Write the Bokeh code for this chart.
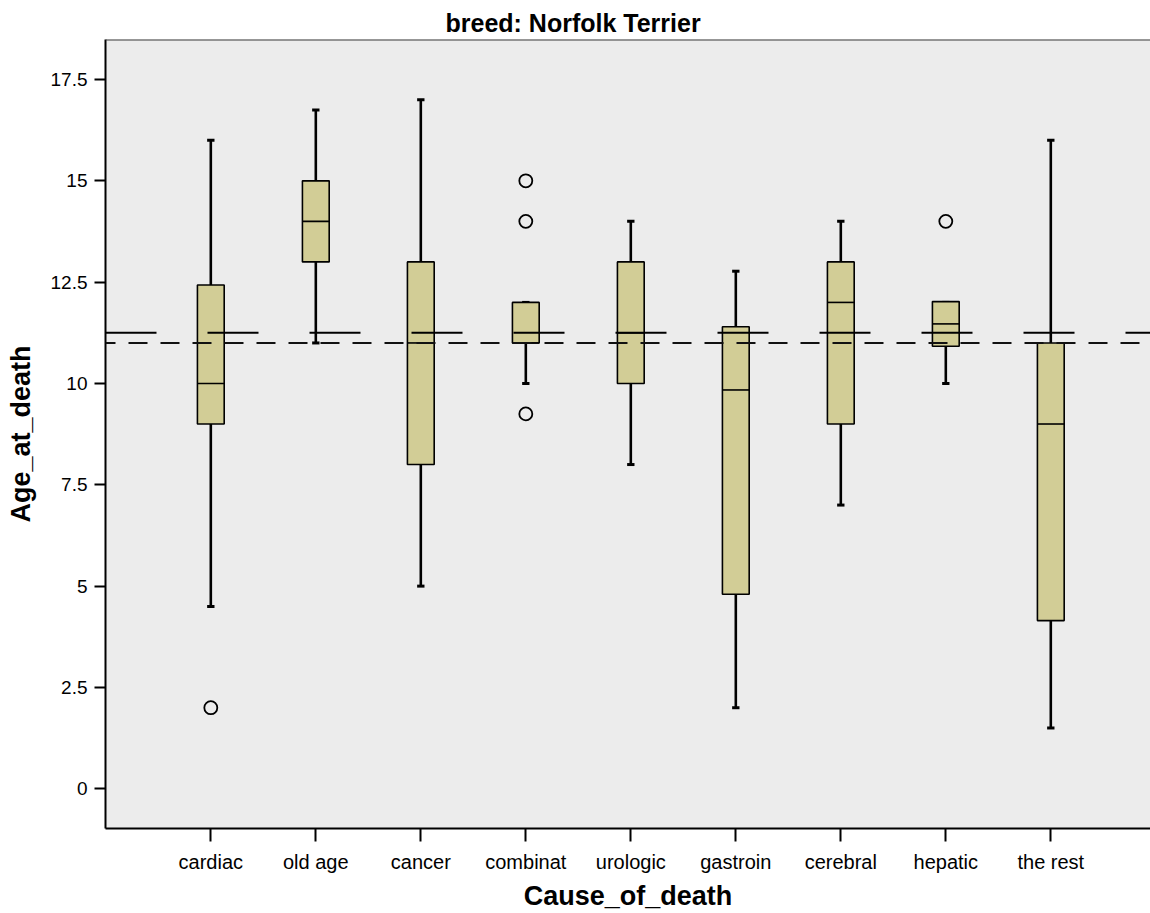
from bokeh.plotting import figure
from bokeh.models import ColumnDataSource, Span, FixedTicker
from bokeh.embed import file_html
from bokeh.resources import INLINE

# ---- data ----
categories = ["cardiac", "old age", "cancer", "combinat", "urologic",
              "gastroin", "cerebral", "hepatic", "the rest"]
whisker_low = [4.5, 11.0, 5.0, 10.0, 8.0, 2.0, 7.0, 10.0, 1.5]
q1 = [9.0, 13.0, 8.0, 11.0, 10.0, 4.8, 9.0, 10.92, 4.15]
median = [10.0, 14.0, 11.0, 11.0, 11.25, 9.84, 12.0, 11.47, 9.0]
q3 = [12.43, 15.0, 13.0, 12.0, 13.0, 11.4, 13.0, 12.02, 11.0]
whisker_high = [16.0, 16.75, 17.0, 12.0, 14.0, 12.77, 14.0, 12.0, 16.0]

outlier_cause = ["cardiac", "combinat", "combinat", "combinat", "hepatic"]
outlier_age = [2.0, 15.0, 14.0, 9.25, 14.0]

reference_upper = 11.25
reference_lower = 11.0

y_ticks = [0, 2.5, 5, 7.5, 10, 12.5, 15, 17.5]
y_tick_labels = ["0", "2.5", "5", "7.5", "10", "12.5", "15", "17.5"]

title_text = "breed: Norfolk Terrier"
x_title = "Cause_of_death"
y_title = "Age_at_death"

# ---- build ----
xpos = [i + 1 for i in range(len(categories))]
box_half = 0.1275
cap_half = 0.035
y_lo, y_hi = -0.98, 18.487

src = ColumnDataSource(dict(
    x=xpos, lo=whisker_low, q1=q1, med=median, q3=q3, hi=whisker_high,
    bl=[x - box_half for x in xpos], br=[x + box_half for x in xpos],
    cl=[x - cap_half for x in xpos], cr=[x + cap_half for x in xpos],
))
out_src = ColumnDataSource(dict(
    x=[categories.index(c) + 1 for c in outlier_cause], y=outlier_age))

p = figure(width=1150, height=913, x_range=(-0.003, 9.9495), y_range=(y_lo, y_hi),
           output_backend="svg", toolbar_location=None,
           min_border_left=105, min_border_right=0, min_border_top=39, min_border_bottom=85)

p.background_fill_color = "#ececec"
p.border_fill_color = "white"
p.outline_line_color = None
p.xgrid.visible = False
p.ygrid.visible = False

box_col = "#d2cd96"

# whiskers
p.segment(x0="x", y0="q3", x1="x", y1="hi", source=src, line_color="black", line_width=2.6)
p.segment(x0="x", y0="lo", x1="x", y1="q1", source=src, line_color="black", line_width=2.6)
p.segment(x0="cl", y0="hi", x1="cr", y1="hi", source=src, line_color="black", line_width=3)
p.segment(x0="cl", y0="lo", x1="cr", y1="lo", source=src, line_color="black", line_width=3)
# boxes
p.quad(left="bl", right="br", bottom="q1", top="q3", source=src,
       fill_color=box_col, line_color="black", line_width=1.6)
# medians
p.segment(x0="bl", y0="med", x1="br", y1="med", source=src, line_color="black", line_width=1.6)
# outliers
p.scatter(x="x", y="y", source=out_src, marker="circle", size=13,
          fill_alpha=0, line_color="black", line_width=1.8)

# reference lines
p.add_layout(Span(location=reference_upper, dimension="width", line_color="black",
                  line_width=2, line_dash="51 51"))
p.add_layout(Span(location=reference_lower, dimension="width", line_color="#111111",
                  line_width=2, line_dash="19 13", line_dash_offset=9))
# top border of the plot frame
p.add_layout(Span(location=y_hi, dimension="width", line_color="#3a3a3a", line_width=2))

# axes
for ax in (p.xaxis[0], p.yaxis[0]):
    ax.axis_line_color = "black"
    ax.axis_line_width = 2
    ax.major_tick_line_color = "black"
    ax.major_tick_line_width = 2
    ax.major_tick_in = 0
    ax.minor_tick_line_color = None
    ax.major_label_text_font = "Liberation Sans"
    ax.major_label_text_color = "black"
    ax.axis_label_text_font = "Liberation Sans"
    ax.axis_label_text_font_style = "bold"
    ax.axis_label_text_font_size = "27px"
    ax.axis_label_text_color = "black"

p.xaxis.ticker = FixedTicker(ticks=xpos)
p.xaxis.major_label_overrides = {x: c for x, c in zip(xpos, categories)}
p.xaxis.major_tick_out = 13
p.xaxis.major_label_standoff = 9
p.xaxis.major_label_text_font_size = "20px"
p.xaxis.axis_label = x_title
p.xaxis.axis_label_standoff = 5

p.yaxis.ticker = FixedTicker(ticks=y_ticks)
p.yaxis.major_label_overrides = {t: l for t, l in zip(y_ticks, y_tick_labels)}
p.yaxis.major_tick_out = 11
p.yaxis.major_label_standoff = 7
p.yaxis.major_label_text_font_size = "19px"
p.yaxis.axis_label = y_title
p.yaxis.axis_label_standoff = 12

p.title.text = title_text
p.title.align = "left"
p.title.offset = 340
p.title.standoff = 5
p.title.text_font = "Liberation Sans"
p.title.text_font_size = "25px"
p.title.text_font_style = "bold"
p.title.text_color = "black"

open("out.html", "w").write(file_html(p, INLINE))
